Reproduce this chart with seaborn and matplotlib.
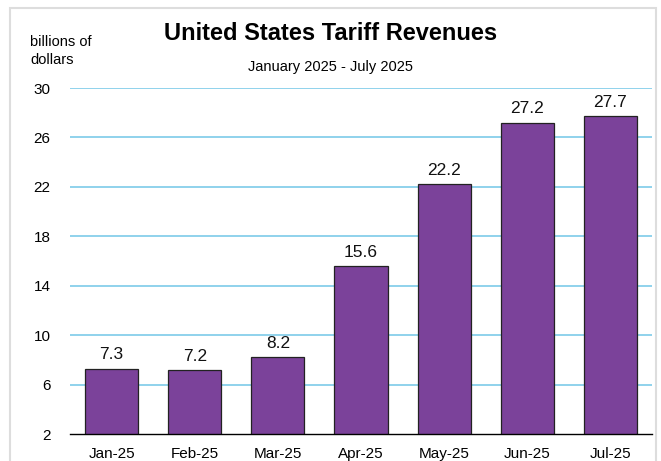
import matplotlib
matplotlib.use("Agg")
import matplotlib.pyplot as plt
import seaborn as sns
import pandas as pd
from matplotlib.patches import Rectangle

months = ["Jan-25", "Feb-25", "Mar-25", "Apr-25", "May-25", "Jun-25", "Jul-25"]
revenue = [7.3, 7.2, 8.2, 15.6, 22.2, 27.2, 27.7]
yticks = [2, 6, 10, 14, 18, 22, 26, 30]

sns.set_style("white")
plt.rcParams['font.family'] = ['Liberation Sans Narrow', 'Liberation Sans', 'DejaVu Sans']
plt.rcParams['text.color'] = 'black'
plt.rcParams['xtick.color'] = 'black'
plt.rcParams['ytick.color'] = 'black'

df = pd.DataFrame({"month": months, "revenue": revenue})

fig = plt.figure(figsize=(6.61, 4.61), dpi=100)
ax = fig.add_axes([70 / 661, 1 - 434 / 461, 582 / 661, 346 / 461])

ax.set_ylim(2, 30)
ax.set_yticks(yticks)
for t in yticks[1:]:
    ax.axhline(t, color="#87cfea", lw=1.3, zorder=0)

sns.barplot(data=df, x="month", y="revenue", color="#7b429a", width=0.64,
            edgecolor="#222222", linewidth=0.9, saturation=1, ax=ax, zorder=2)

for i, v in enumerate(revenue):
    ax.text(i, v + 0.5, f"{v:.1f}", ha="center", va="bottom", fontsize=12.5, color="#111111")

ax.set_xlim(-0.5, len(months) - 0.5)
ax.set_xlabel("")
ax.set_ylabel("")
for s in ["left", "right", "top"]:
    ax.spines[s].set_visible(False)
ax.spines["bottom"].set_color("black")
ax.spines["bottom"].set_linewidth(1)

ax.set_xticks(range(len(months)))
ax.set_xticklabels(months, fontsize=11)
ax.tick_params(axis="x", length=0, pad=9)
ax.set_xticks([i - 0.5 for i in range(len(months) + 1)], minor=True)
ax.tick_params(axis="x", which="minor", length=6, width=1, color="black", direction="out")
ax.tick_params(axis="y", length=0, labelsize=11, pad=14)

fig.text(0.5, 1 - 33 / 461, "United States Tariff Revenues", ha="center", va="center",
         fontsize=17, fontweight="bold")
fig.text(0.5, 1 - 67 / 461, "January 2025 - July 2025", ha="center", va="center", fontsize=10.5)
fig.text(30 / 661, 1 - 51 / 461, "billions of\ndollars", ha="left", va="center", fontsize=10.5,
         linespacing=1.3)

fig.patches.append(Rectangle((10 / 661, -0.05), 646 / 661, 1.05 - 8 / 461, transform=fig.transFigure,
                             fill=False, edgecolor="#dddddd", lw=1.5))

fig.savefig("out.png", dpi=100)
